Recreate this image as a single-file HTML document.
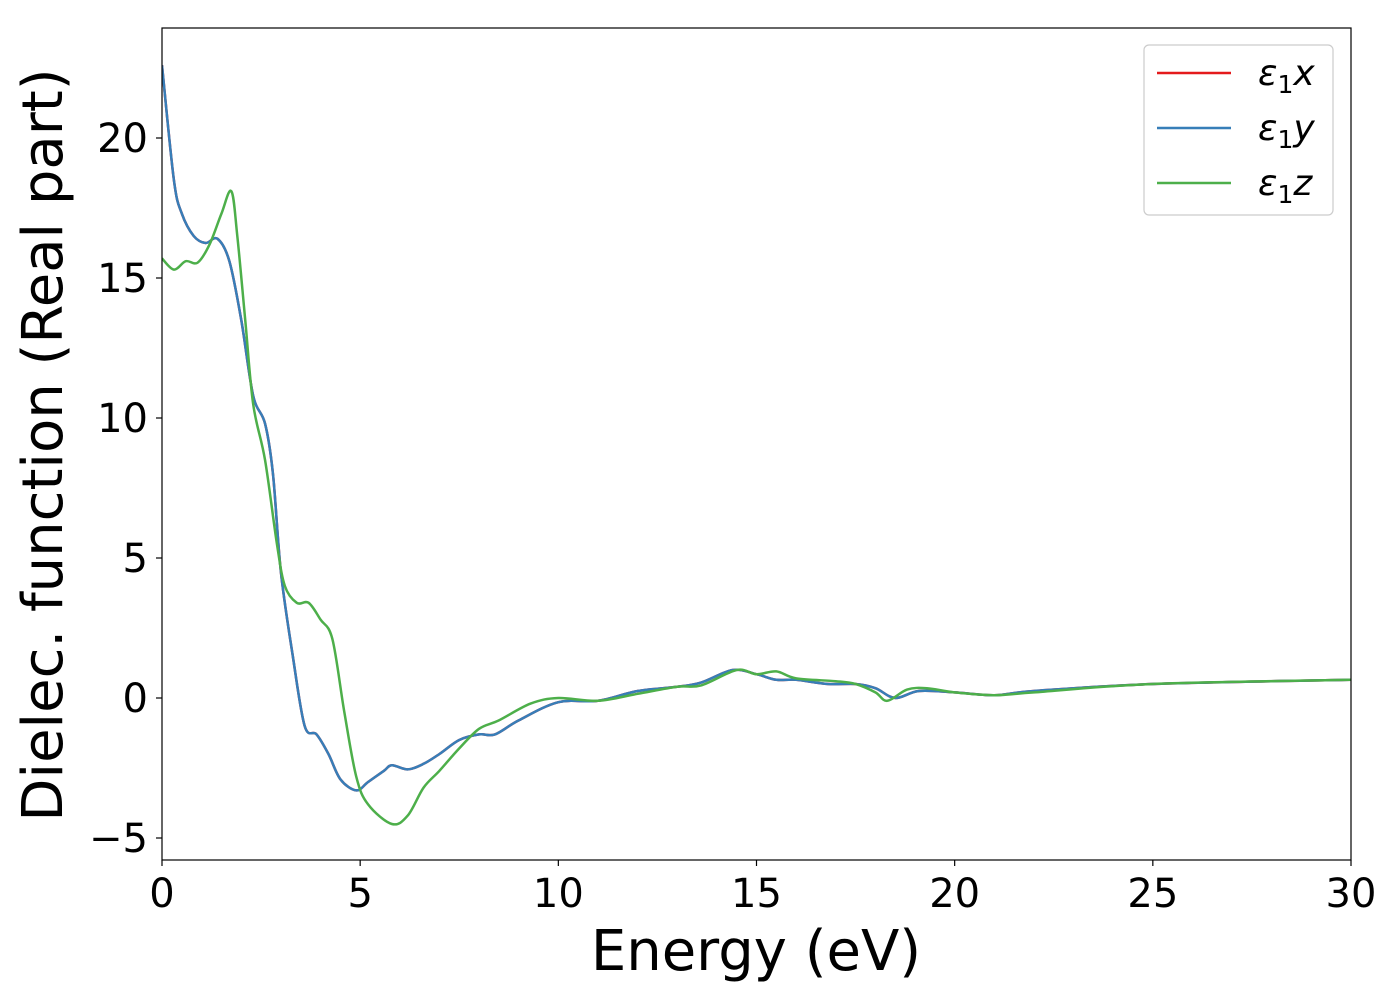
<!DOCTYPE html>
<html><head><meta charset="utf-8"><style>body{margin:0;background:#fff}svg{display:block;font-family:"DejaVu Sans","Liberation Sans",sans-serif}</style></head>
<body>
<svg id="chart" width="1400" height="1000"></svg>
<script>
const energyX=[0,0.3,0.5,0.8,1.1,1.4,1.7,2.0,2.3,2.6,2.8,3.0,3.3,3.6,3.9,4.2,4.5,4.9,5.2,5.6,5.8,6.2,6.6,7.0,7.5,8.0,8.4,9.0,10,11,12,13,13.6,14.4,15,15.5,16,16.8,17.5,18,18.5,19.1,20,21,22,25,30];
const eps1xy=[22.6,18.5,17.3,16.5,16.25,16.4,15.6,13.5,10.8,9.8,8.0,4.5,1.5,-1.0,-1.3,-2.0,-2.9,-3.3,-3.0,-2.6,-2.4,-2.55,-2.35,-2.0,-1.5,-1.3,-1.3,-0.8,-0.15,-0.1,0.25,0.4,0.55,1.0,0.85,0.65,0.65,0.5,0.5,0.35,0.0,0.25,0.2,0.1,0.25,0.5,0.65];
const energyZ=[0,0.3,0.6,0.9,1.2,1.5,1.75,1.9,2.1,2.3,2.6,2.9,3.1,3.4,3.7,4.0,4.3,4.6,4.9,5.2,5.8,6.2,6.6,7.0,7.5,8.0,8.5,9.3,10,11,12,13,13.6,14.5,15,15.5,16,17,17.5,18,18.3,18.8,19.3,20,21,22,25,30];
const eps1z=[15.7,15.3,15.6,15.55,16.2,17.3,18.1,16.5,13.5,10.5,8.5,5.5,4.0,3.4,3.4,2.8,2.1,-0.5,-2.8,-3.8,-4.5,-4.2,-3.2,-2.6,-1.8,-1.1,-0.8,-0.2,0.0,-0.1,0.15,0.4,0.45,1.0,0.85,0.95,0.7,0.6,0.5,0.2,-0.1,0.3,0.35,0.2,0.1,0.2,0.5,0.65];
const xTicks=[0,5,10,15,20,25,30];
const yTicks=[-5,0,5,10,15,20];
const NS="http://www.w3.org/2000/svg";
const svg=document.getElementById('chart');
const L=162,R=1351,T=28,B=860;
const sx=v=>L+(v-0)/30*(R-L);
const sy=v=>698-v*28;
function mk(t,a,p){const e=document.createElementNS(NS,t);for(const k in a)e.setAttribute(k,a[k]);(p||svg).appendChild(e);return e;}
function path(xs,ys){const p=xs.map((x,i)=>[sx(x),sy(ys[i])]);let d=`M${p[0][0]},${p[0][1]}`;
for(let i=0;i<p.length-1;i++){const p0=p[Math.max(0,i-1)],p1=p[i],p2=p[i+1],p3=p[Math.min(p.length-1,i+2)];
d+=` C${p1[0]+(p2[0]-p0[0])/6},${p1[1]+(p2[1]-p0[1])/6} ${p2[0]-(p3[0]-p1[0])/6},${p2[1]-(p3[1]-p1[1])/6} ${p2[0]},${p2[1]}`;}return d;}
mk('clipPath',{id:'clip'}).appendChild(document.createElementNS(NS,'rect'));
const cr=svg.querySelector('#clip rect');cr.setAttribute('x',L);cr.setAttribute('y',T);cr.setAttribute('width',R-L);cr.setAttribute('height',B-T);
const g=mk('g',{'clip-path':'url(#clip)'});

let e;
e=mk('path',{d:path(energyX,eps1xy),fill:'none',stroke:'#e41a1c','stroke-width':2.5},g);

e=mk('path',{d:path(energyX,eps1xy),fill:'none',stroke:'#377eb8','stroke-width':2.5},g);

e=mk('path',{d:path(energyZ,eps1z),fill:'none',stroke:'#4daf4a','stroke-width':2.5},g);

e=mk('rect',{x:L,y:T,width:R-L,height:B-T,fill:'none',stroke:'#000','stroke-width':1.2});

xTicks.forEach(v=>{const x=sx(v);
e=mk('line',{x1:x,x2:x,y1:B,y2:B+6,stroke:'#000','stroke-width':1.2});
e=mk('text',{x:x,y:B+47,'text-anchor':'middle','font-size':40});e.textContent=v;});
yTicks.forEach(v=>{const y=sy(v);
e=mk('line',{x1:L-6,x2:L,y1:y,y2:y,stroke:'#000','stroke-width':1.2});
e=mk('text',{x:L-14,y:y+14,'text-anchor':'end','font-size':40});e.textContent=v<0?'\u2212'+(-v):v;});
e=mk('text',{x:756,y:970,'text-anchor':'middle','font-size':56});e.textContent='Energy (eV)';
e=mk('text',{x:62,y:445,'text-anchor':'middle','font-size':56,transform:'rotate(-90 62 445)'});e.textContent='Dielec. function (Real part)';
const lg=mk('g',{});
mk('rect',{x:1144,y:45,width:189,height:170,rx:5,fill:'#fff',stroke:'#ccc','stroke-width':1.2},lg);
const labs=['x','y','z'],cols=['#e41a1c','#377eb8','#4daf4a'];
labs.forEach((s,i)=>{const y=73+i*55;
const it=mk('g',{},lg);
mk('line',{x1:1157,x2:1231,y1:y,y2:y,stroke:cols[i],'stroke-width':2.5},it);
const t=mk('text',{x:1258,y:y+12,'font-size':36,'font-style':'italic'},it);
t.innerHTML='ε<tspan font-style="normal" font-size="25" dy="8">1</tspan><tspan dy="-8">'+s+'</tspan>';});
</script>
</body></html>
